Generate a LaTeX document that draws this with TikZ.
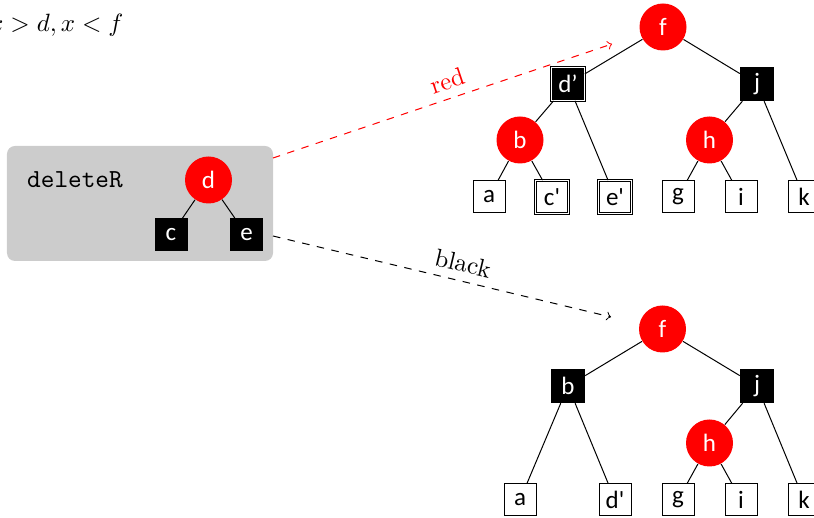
\documentclass[tikz,border=0pt]{standalone}
\usepackage{fontspec}
\newfontfamily\nodefont{Carlito}
\usetikzlibrary{calc}
\begin{document}
\begin{tikzpicture}[x=0.4pt,y=-0.4pt,
  rn/.style={circle, fill=red, text=white, minimum size=18.8pt, inner sep=0pt, font=\nodefont},
  bn/.style={rectangle, fill=black, text=white, minimum size=13.4pt, inner sep=0pt, font=\nodefont},
  ln/.style={rectangle, draw=black, fill=white, minimum size=12.8pt, inner sep=0pt, font=\nodefont},
  dbl/.style={draw=black, double=white, double distance=0.6pt, line width=0.3pt, minimum size=13.2pt},
  edge/.style={draw=black, line width=0.4pt},
  arr/.style={->, dashed, line width=0.4pt},
  graybox/.style={rectangle, fill=black!20, rounded corners=3.2pt, minimum width=106.4pt, minimum height=46pt, inner sep=0pt}]
\useasboundingbox (0,0) rectangle (814,518);

% top-left condition
\node[anchor=east, inner sep=0pt, font=\fontsize{10.3}{12}\selectfont] (cond) at (124,25) {$x > d, x < f$};

% gray box with small tree
\node[graybox] (box) at (140,203.5) {};
\node[font=\fontsize{10.4}{12}\selectfont\ttfamily, inner sep=0pt] (lbl) at (75,180) {deleteR};
\node[rn] (d) at (208.5,180) {d};
\node[bn, minimum size=13.2pt] (c) at (171,235) {c};
\node[bn, minimum size=13.2pt] (e) at (246.5,235) {e};
\draw[edge] (d) -- (c);
\draw[edge] (d) -- (e);

% top tree
\node[rn] (f) at (663,27) {f};
\node[bn, dbl] (dp) at (568,84) {d’};
\node[bn] (j) at (757,84) {j};
\node[rn] (b) at (520,140) {b};
\node[rn] (h) at (709.5,140) {h};
\node[ln] (a) at (489,197) {a};
\node[ln, dbl] (cp) at (552,197) {c\textquotesingle};
\node[ln, dbl] (ep) at (615,197) {e\textquotesingle};
\node[ln] (g) at (678,197) {g};
\node[ln] (i) at (741,197) {i};
\node[ln] (k) at (804,197) {k};
\foreach \u/\v in {f/dp, f/j, dp/b, dp/ep, b/a, b/cp, j/h, j/k, h/g, h/i}
  \draw[edge] (\u) -- (\v);

% bottom tree
\node[rn] (f2) at (662.5,329) {f};
\node[bn] (b2) at (568,386) {b};
\node[bn] (j2) at (757,386) {j};
\node[rn] (h2) at (709.5,443) {h};
\node[ln] (a2) at (520,500) {a};
\node[ln] (dp2) at (615,500) {d\textquotesingle};
\node[ln] (g2) at (678,500) {g};
\node[ln] (i2) at (741,500) {i};
\node[ln] (k2) at (804,500) {k};
\foreach \u/\v in {f2/b2, f2/j2, b2/a2, b2/dp2, j2/h2, j2/k2, h2/g2, h2/i2}
  \draw[edge] (\u) -- (\v);

% arrows
\coordinate (rs) at (273,158);
\coordinate (re) at (612,44);
\coordinate (bs) at (273,236);
\coordinate (be) at (611,317);
\draw[arr, red] (rs) -- node[pos=0.53, sloped, above, text=red] {red} (re);
\draw[arr, black] (bs) -- node[pos=0.55, sloped, above] {black} (be);
\end{tikzpicture}
\end{document}
